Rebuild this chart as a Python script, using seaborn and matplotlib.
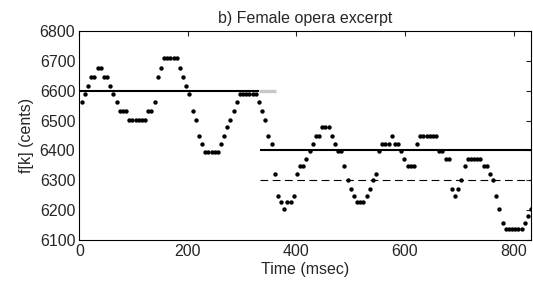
import numpy as np
import pandas as pd
import matplotlib
matplotlib.use("Agg")
import matplotlib.pyplot as plt
import seaborn as sns

# ── Data ─────────────────────────────────────────────────────
hop_ms = 5.83      # frame spacing of the pitch track
start_ms = 4.4     # time of first frame

pitch_cents = [
    6561, 6589, 6617, 6647, 6647, 6677, 6677, 6647, 6647, 6617,
    6589, 6561, 6533, 6533, 6533, 6503, 6503, 6503, 6503, 6503,
    6503, 6533, 6533, 6561, 6647, 6677, 6709, 6709, 6709, 6709,
    6709, 6677, 6647, 6617, 6589, 6533, 6503, 6450, 6421, 6394,
    6394, 6394, 6394, 6394, 6421, 6450, 6477, 6503, 6533, 6561,
    6589, 6589, 6589, 6589, 6589, 6589, 6561, 6533, 6503, 6450,
    6421, 6322, 6248, 6228, 6203, 6228, 6228, 6248, 6322, 6347,
    6347, 6372, 6397, 6421, 6450, 6450, 6477, 6477, 6477, 6450,
    6421, 6397, 6397, 6347, 6300, 6272, 6248, 6228, 6228, 6228,
    6248, 6272, 6300, 6322, 6397, 6421, 6421, 6421, 6450, 6421,
    6421, 6397, 6372, 6347, 6347, 6347, 6421, 6450, 6450, 6450,
    6450, 6450, 6450, 6397, 6397, 6372, 6372, 6272, 6248, 6272,
    6300, 6347, 6372, 6372, 6372, 6372, 6372, 6347, 6347, 6322,
    6300, 6248, 6203, 6157, 6138, 6138, 6138, 6138, 6138, 6138,
    6157, 6180, 6203,
]

# reference note levels (start ms, end ms, cents)
note1 = (0, 331, 6600)
note1_ext = (331, 362, 6600)
note2 = (333, 832, 6400)
note2_alt = (333, 832, 6300)

df = pd.DataFrame({"time": start_ms + hop_ms * np.arange(len(pitch_cents)),
                   "cents": pitch_cents})

# ── Plot ─────────────────────────────────────────────────────
sns.set_style("white")
plt.rcParams['font.family'] = ['Liberation Sans', 'DejaVu Sans']
plt.rcParams['font.size'] = 11.5

fig = plt.figure(figsize=(5.33, 2.82), dpi=100)
ax = fig.add_axes([0.149, 0.149, 0.847, 0.741])

ax.plot(note1_ext[:2], [note1_ext[2]] * 2, color='#c8c8c8', lw=2.4,
        solid_capstyle='butt', zorder=1)
ax.plot(note1[:2], [note1[2]] * 2, color='black', lw=1.5,
        solid_capstyle='butt', zorder=2)
ax.plot(note2[:2], [note2[2]] * 2, color='black', lw=1.5,
        solid_capstyle='butt', zorder=2)
ax.plot(note2_alt[:2], [note2_alt[2]] * 2, color='black', lw=0.8,
        dashes=(7, 4), zorder=2)

sns.scatterplot(data=df, x="time", y="cents", ax=ax, color='black',
                s=10, linewidth=0, zorder=3)

ax.set_xlim(0, 832)
ax.set_ylim(6100, 6800)
ax.set_xticks([0, 200, 400, 600, 800])
ax.set_yticks(np.arange(6100, 6801, 100))
ax.tick_params(direction='in', length=3.5, width=0.8, top=True, right=True,
               labelsize=11.5, pad=3)
for sp in ax.spines.values():
    sp.set_color('black')
    sp.set_linewidth(0.8)

ax.set_xlabel("Time (msec)", fontsize=11.5, labelpad=2)
ax.set_ylabel("f[k] (cents)", fontsize=11.5, labelpad=4)
ax.set_title("b) Female opera excerpt", fontsize=11.5, pad=6)

plt.savefig("out.png", dpi=100)
